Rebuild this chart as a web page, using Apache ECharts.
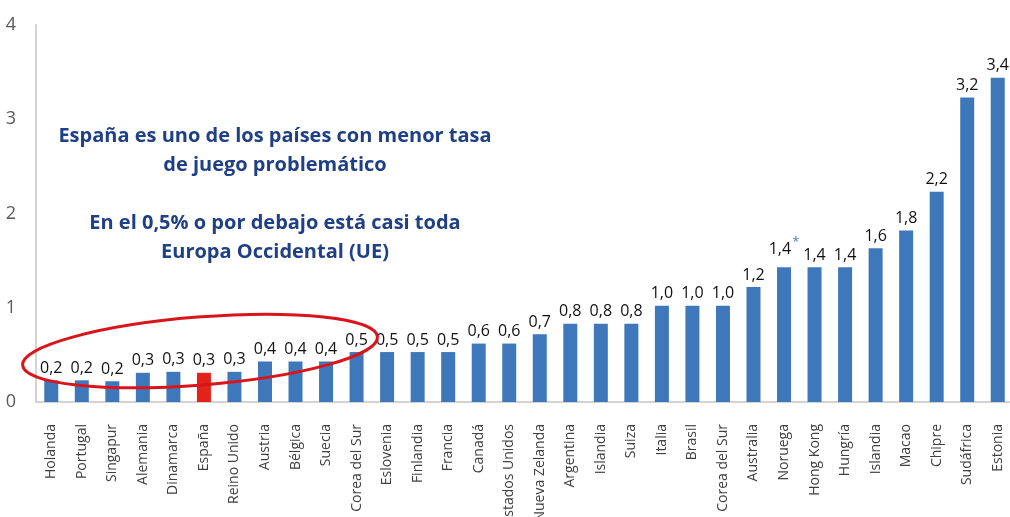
<!DOCTYPE html>
<html>
<head>
<meta charset="utf-8">
<script src="https://cdn.jsdelivr.net/npm/echarts@6/dist/echarts.min.js"></script>
<style>
  html, body { margin: 0; padding: 0; background: #fff; }
  #chart { width: 1010px; height: 517px; }
</style>
</head>
<body>
<div id="chart"></div>
<script>
// datos: tasa de juego problemático por país
var paises = ['Holanda', 'Portugal', 'Singapur', 'Alemania', 'Dinamarca', 'España', 'Reino Unido',
    'Austria', 'Bélgica', 'Suecia', 'Corea del Sur', 'Eslovenia', 'Finlandia', 'Francia', 'Canadá',
    'Estados Unidos', 'Nueva Zelanda', 'Argentina', 'Islandia', 'Suiza', 'Italia', 'Brasil',
    'Corea del Sur ', 'Australia', 'Noruega', 'Hong Kong', 'Hungría', 'Islandia ', 'Macao', 'Chipre',
    'Sudáfrica', 'Estonia'];
var tasas = [0.23, 0.23, 0.22, 0.31, 0.32, 0.31, 0.32, 0.43, 0.43, 0.43, 0.53, 0.53, 0.53, 0.53, 0.62,
    0.62, 0.72, 0.83, 0.83, 0.83, 1.02, 1.02, 1.02, 1.22, 1.43, 1.43, 1.43, 1.63, 1.82, 2.23, 3.23, 3.44];
var destacado = 'España';
var conAsterisco = 'Noruega';
var textoNota = ['España es uno de los países con menor tasa', 'de juego problemático', '',
    'En el 0,5% o por debajo está casi toda', 'Europa Occidental (UE)'];

var chart = echarts.init(document.getElementById('chart'));

var datos = tasas.map(function(v, i) {
    var item = { value: v };
    if (paises[i] === destacado) {
        item.itemStyle = { color: '#e3221b' };
    }
    return item;
});

chart.setOption({
    animation: false,
    grid: { left: 36, right: -3, top: 25, bottom: 115, outerBoundsMode: 'none', containLabel: false },
    xAxis: {
        type: 'category',
        data: paises,
        axisLine: { lineStyle: { color: '#d3d3d3', width: 2 } },
        axisTick: { show: false },
        axisLabel: {
            rotate: 90,
            interval: 0,
            margin: 22,
            fontSize: 14,
            color: '#404040',
            fontFamily: 'Open Sans',
            formatter: function(v) { return v.trim(); }
        }
    },
    yAxis: {
        type: 'value',
        min: 0,
        max: 4,
        interval: 1,
        splitLine: { show: false },
        axisLine: { show: true, lineStyle: { color: '#d3d3d3', width: 2 } },
        axisTick: { show: false },
        axisLabel: { fontSize: 18, color: '#595959', margin: 20, fontFamily: 'Open Sans', fontWeight: 500 }
    },
    series: [{
        type: 'bar',
        data: datos,
        barWidth: 14,
        itemStyle: { color: '#3f78ba' },
        label: {
            show: true,
            position: 'top',
            distance: 4,
            fontSize: 16,
            fontWeight: 500,
            color: '#111',
            fontFamily: 'Open Sans',
            formatter: function(p) {
                var t = p.value.toFixed(1).replace('.', ',');
                return p.name === conAsterisco ? t + '{s|*}' : t;
            },
            rich: {
                s: { fontSize: 13, color: '#4a7cc0', padding: [0, 0, 14, 1] }
            }
        }
    }],
    graphic: [
        {
            type: 'ellipse',
            shape: { cx: 200, cy: 351, rx: 178, ry: 34 },
            originX: 200,
            originY: 351,
            rotation: 0.08,
            style: { fill: 'none', stroke: '#d9151b', lineWidth: 3 },
            z: 10
        },
        {
            type: 'text',
            x: 275,
            y: 122,
            style: {
                text: textoNota.join('\n'),
                align: 'center',
                verticalAlign: 'top',
                fontSize: 20,
                fontWeight: 700,
                lineHeight: 29,
                fontFamily: 'Open Sans',
                fill: '#1f3f86'
            }
        }
    ]
});
</script>
</body>
</html>
